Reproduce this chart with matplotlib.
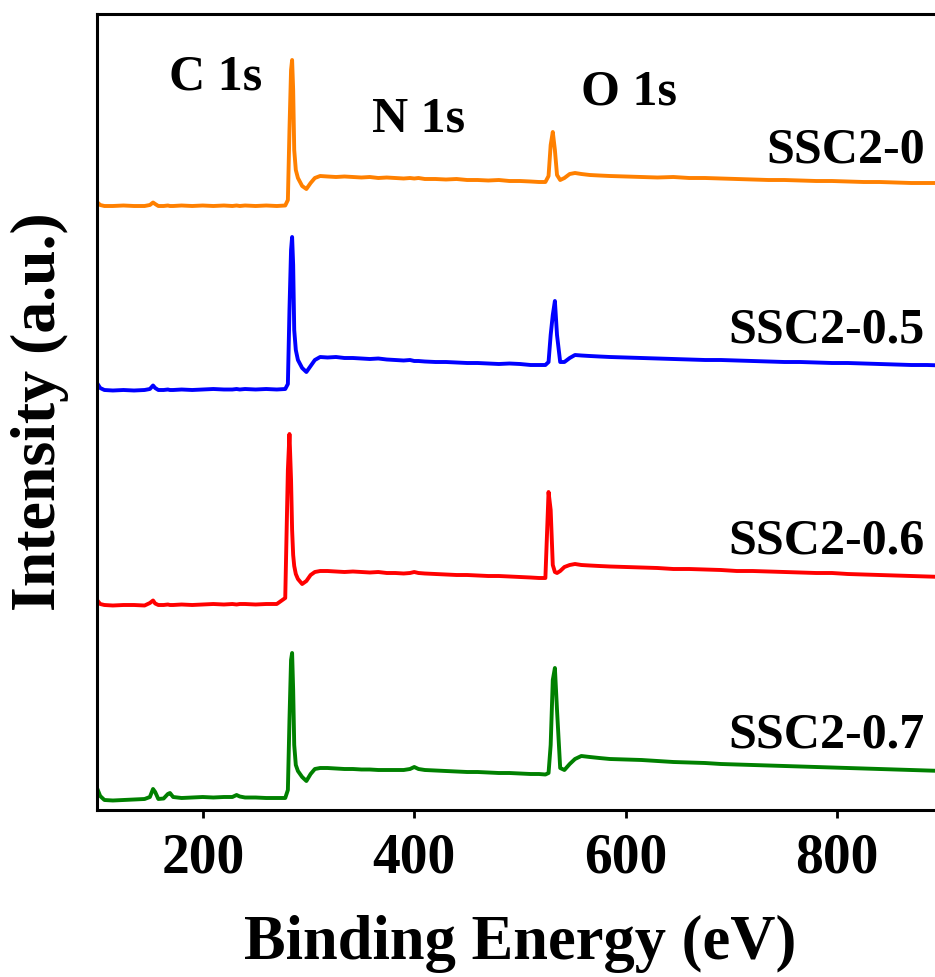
import matplotlib
matplotlib.use('Agg')
import matplotlib.pylab as plt
import numpy as np

# binding energy grid (eV), shared by the four survey spectra
binding_energy = [100, 103, 107, 115, 125, 135, 145, 150, 153, 155,
                  158, 163, 167, 169, 172, 180, 190, 200, 210, 220,
                  228, 232, 235, 240, 250, 260, 270, 278, 280.5, 282,
                  283.5, 284.5, 285.5, 286.5, 288, 290, 294, 298, 302, 306,
                  311, 318, 326, 334, 342, 350, 358, 366, 374, 382,
                  390, 396, 400, 404, 410, 420, 430, 440, 450, 460,
                  470, 480, 490, 500, 510, 518, 524, 527, 529, 531,
                  533, 535, 538, 542, 547, 552, 558, 566, 575, 585,
                  600, 615, 630, 645, 660, 675, 690, 705, 720, 735,
                  750, 765, 780, 795, 810, 825, 840, 855, 870, 885,
                  900]

# intensities (a.u.), relative to each spectrum's baseline
ssc2_0 = [4, 1, 0, 0, 0.5, 0, 0, 1, 3.5, 2,
          0, 0, 0.5, 0, 0, 0.5, 0, 0.5, 0, 0.5,
          0, 0.5, 0, 0.5, 0, 0.5, 0, 0.5, 6, 76,
          136, 146, 116, 56, 36, 28, 20, 17, 23, 28,
          30, 29.5, 29, 29.5, 29, 28.5, 29, 28, 28.5, 28,
          27.5, 28, 27.5, 28, 27, 27, 26.5, 27, 26, 26,
          25.5, 26, 25, 25, 24.5, 24, 24, 30, 61, 74,
          56, 31, 26, 28, 32, 33, 32, 31, 30.5, 30,
          29.5, 29, 28.5, 29, 28, 28, 27.5, 27, 26.5, 26,
          26, 25.5, 25, 25, 24.5, 24, 24, 23.5, 23, 23,
          23]

ssc2_05 = [7, 2, 0, -0.5, 0, -0.5, 0, 1, 4.5, 2,
           0, 0, 0.5, 0, 0, 0.5, 0, 0.5, 1, 0.5,
           0.5, 1, 0.5, 1, 0.5, 1, 0.5, 1, 6, 80,
           140, 153, 125, 60, 40, 30, 22, 18, 24, 30,
           33, 32.5, 33, 32, 32, 31.5, 31, 31.5, 30.5, 30,
           29.5, 30, 29, 29, 28.5, 28, 28, 27.5, 27, 27,
           26.5, 26, 26.5, 26, 25, 25, 25, 28, 55, 75,
           89, 55, 28, 28, 32, 35, 34.5, 34, 33.5, 33,
           32.5, 32, 31.5, 31, 30.5, 30, 30, 29.5, 29, 28.5,
           28, 28, 27.5, 27, 27, 26.5, 26, 25.5, 25, 25,
           24.5]

ssc2_06 = [5, 1, 0, -0.5, 0, 0, -0.5, 2, 4.5, 1.5,
           0, 0, 0.5, 0, 0, 0.5, 0, 0.5, 1, 0.5,
           1, 0.5, 1, 1, 0.5, 1, 1, 7, 135, 171,
           125, 75, 50, 39, 31, 26, 21, 24, 30, 33,
           34, 34, 33.5, 33, 33.5, 33, 32.5, 33, 32, 32,
           31.5, 32, 33, 32, 31.5, 31, 30.5, 30, 30, 29.5,
           29, 29, 28.5, 28, 27.5, 27, 27, 113, 95, 40,
           33, 32, 34, 38, 40, 41, 40, 39.5, 39, 38.5,
           38, 37.5, 37, 36, 36, 35.5, 35, 34, 34, 33.5,
           33, 32.5, 32, 32, 31, 30.5, 30, 29.5, 29, 28.5,
           28]

ssc2_07 = [12, 4, 0, -0.5, 0, 0.5, 1, 3, 11, 8,
           1, 1.5, 6, 7, 3, 2, 2.5, 3, 2.5, 3,
           3, 5, 3.5, 2.5, 2.5, 2, 2, 2, 10, 80,
           140, 147, 110, 55, 35, 29, 23, 19, 26, 31,
           32, 32, 31.5, 31, 31, 30.5, 30.5, 30, 30, 30,
           30, 31, 33, 31, 30, 29.5, 29, 28.5, 28, 28,
           27.5, 27, 27, 26.5, 26, 26, 25.5, 27, 55, 120,
           132, 90, 32, 30, 36, 41, 44, 43, 42, 41,
           40.5, 40, 39, 38, 37.5, 37, 36, 35.5, 35, 34.5,
           34, 33.5, 33, 32.5, 32, 31.5, 31, 30.5, 30, 29.5,
           29]

spectra = [ssc2_0, ssc2_05, ssc2_06, ssc2_07]
sample_names = ['SSC2-0', 'SSC2-0.5', 'SSC2-0.6', 'SSC2-0.7']
stack_offsets = [604, 420, 205, 10]
line_colours = ['#ff8000', '#0000ff', '#ff0000', '#008000']
label_heights = [647, 467, 257, 63]

peak_names = ['C 1s', 'N 1s', 'O 1s']
peak_label_x = [212, 404, 603]
peak_label_y = [720, 678, 705]

SERIF = 'Liberation Serif'


def make_plot():
    plt.rcParams['font.family'] = 'serif'
    plt.rcParams['font.serif'] = [SERIF]
    plt.rcParams['font.weight'] = 'bold'
    fig = plt.figure(figsize=(9.35, 9.77), dpi=100)
    survey = fig.add_axes([97 / 935, 167 / 977, 846 / 935, 796 / 977])

    energy = np.asarray(binding_energy)
    for spectrum, offset, colour in zip(spectra, stack_offsets, line_colours):
        survey.plot(energy, np.asarray(spectrum) + offset, color=colour, linewidth=2.8,
                    solid_joinstyle='round')

    for name, height in zip(sample_names, label_heights):
        survey.text(883, height, name, family=SERIF, fontsize=36, fontweight='bold',
                    ha='right', va='baseline')
    for name, x, y in zip(peak_names, peak_label_x, peak_label_y):
        survey.text(x, y, name, family=SERIF, fontsize=36, fontweight='bold',
                    ha='center', va='baseline')

    plt.xlim(100, 900)
    plt.ylim(0, 796)
    survey.set_xticks([200, 400, 600, 800])
    survey.set_yticks([])
    survey.tick_params(axis='x', direction='out', length=6, width=2, labelsize=40, pad=10)
    for label in survey.get_xticklabels():
        label.set_family(SERIF)
        label.set_fontweight('bold')
    for side in ['left', 'top', 'bottom', 'right']:
        survey.spines[side].set_linewidth(2.2)
    plt.xlabel('Binding Energy (eV)', family=SERIF, fontsize=45, fontweight='bold', labelpad=22)
    plt.ylabel('Intensity (a.u.)', family=SERIF, fontsize=46, fontweight='bold', labelpad=20)

    plt.savefig('out.png', dpi=100)
    plt.close()


def main():
    make_plot()


if __name__ == '__main__':
    main()
